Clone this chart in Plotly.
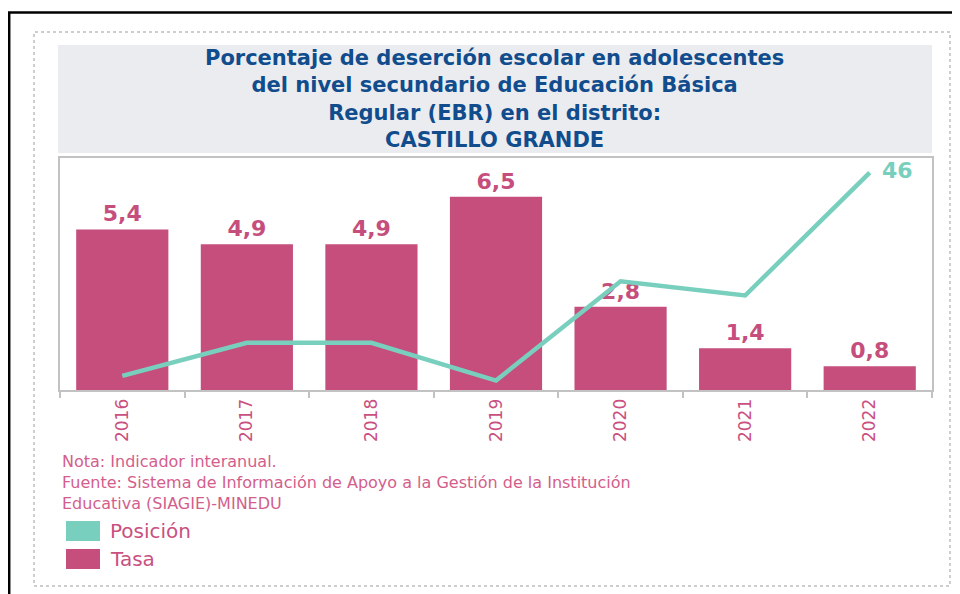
import plotly.graph_objects as go

# ---- data ----
years = ["2016", "2017", "2018", "2019", "2020", "2021", "2022"]
tasa = [5.4, 4.9, 4.9, 6.5, 2.8, 1.4, 0.8]
posicion = [3, 10, 10, 2, 23, 20, 46]

title_lines = [
    "Porcentaje de deserción escolar en adolescentes",
    "del nivel secundario de Educación Básica",
    "Regular (EBR) en el distrito:",
    "CASTILLO GRANDE",
]
note_lines = [
    "Nota: Indicador interanual.",
    "Fuente: Sistema de Información de Apoyo a la Gestión de la Institución",
    "Educativa (SIAGIE)-MINEDU",
]
legend_labels = ["Posición", "Tasa"]

# ---- style ----
# the page body has an 8px margin, so the figure starts at screen (8, 8)
OFF = 8
W, H = 960 - OFF, 594 - OFF
FONT = "DejaVu Sans"
BAR = "#C54E7D"
TEAL = "#79CFBD"
PINK_TXT = "#C9507F"
NOTE_TXT = "#D35E8C"
BLUE = "#114C8D"
GRAY = "#C2C2C2"


def px(x):
    """screen x (px) -> paper fraction"""
    return (x - OFF) / W


def py(y):
    """screen y (px, from top) -> paper fraction"""
    return 1 - (y - OFF) / H


fig = go.Figure()

fig.add_trace(go.Bar(
    x=years, y=tasa, name=legend_labels[1],
    marker=dict(color=BAR, line=dict(width=0)),
    texttemplate="<b>%{y:.1f}</b>", textposition="outside",
    textfont=dict(family=FONT, size=22, color=BAR),
    cliponaxis=False, hoverinfo="x+y",
))

pos_text = [""] * (len(posicion) - 1) + [f"<b>{posicion[-1]}</b>"]
fig.add_trace(go.Scatter(
    x=years, y=posicion, name=legend_labels[0], yaxis="y2",
    mode="lines+markers+text", line=dict(color=TEAL, width=4.5),
    marker=dict(size=18, color="rgba(0,0,0,0)"),
    text=pos_text, textposition="middle right",
    textfont=dict(family=FONT, size=22, color=TEAL),
    cliponaxis=False,
))

shapes = [
    # outer dotted card border
    dict(type="rect", xref="paper", yref="paper",
         x0=px(34), x1=px(950), y0=py(586), y1=py(32),
         line=dict(color="#BDBDBD", width=1.5, dash="dot"), layer="below"),
    # title background
    dict(type="rect", xref="paper", yref="paper",
         x0=px(58), x1=px(932), y0=py(153), y1=py(45),
         fillcolor="#EBECF0", line=dict(width=0), layer="below"),
    # black frame (page border)
    dict(type="line", xref="paper", yref="paper",
         x0=px(8), x1=px(960), y0=py(12.5), y1=py(12.5),
         line=dict(color="black", width=2.5)),
    dict(type="line", xref="paper", yref="paper",
         x0=px(9.2), x1=px(9.2), y0=py(12), y1=py(594),
         line=dict(color="black", width=2.5)),
    # legend swatches
    dict(type="rect", xref="paper", yref="paper",
         x0=px(66), x1=px(100), y0=py(541), y1=py(521),
         fillcolor=TEAL, line=dict(width=0)),
    dict(type="rect", xref="paper", yref="paper",
         x0=px(66), x1=px(100), y0=py(569), y1=py(549),
         fillcolor=BAR, line=dict(width=0)),
]

annotations = [
    dict(xref="paper", yref="paper", x=px(495), y=py(99),
         xanchor="center", yanchor="middle", align="center", showarrow=False,
         text="<b>" + "<br>".join(title_lines) + "</b>",
         font=dict(family=FONT, size=21, color=BLUE)),
    dict(xref="paper", yref="paper", x=px(60), y=py(450),
         xanchor="left", yanchor="top", align="left", showarrow=False,
         text="<br>".join(note_lines),
         font=dict(family=FONT, size=16, color=NOTE_TXT)),
    dict(xref="paper", yref="paper", x=px(108), y=py(531),
         xanchor="left", yanchor="middle", showarrow=False,
         text=legend_labels[0], font=dict(family=FONT, size=20, color=PINK_TXT)),
    dict(xref="paper", yref="paper", x=px(108), y=py(559),
         xanchor="left", yanchor="middle", showarrow=False,
         text=legend_labels[1], font=dict(family=FONT, size=20, color=PINK_TXT)),
]

fig.update_layout(
    width=W, height=H,
    margin=dict(l=0, r=0, t=0, b=0),
    paper_bgcolor="white", plot_bgcolor="white",
    showlegend=False,
    separators=",.",
    bargap=0.26,
    font=dict(family=FONT),
    xaxis=dict(
        domain=[px(60), px(932)], type="category",
        tickson="boundaries", ticks="outside", ticklen=6,
        tickcolor=GRAY, tickwidth=1.5,
        showline=True, linecolor=GRAY, linewidth=2, mirror=True,
        tickangle=-90, tickfont=dict(family=FONT, size=17, color=PINK_TXT),
        showgrid=False, zeroline=False,
    ),
    yaxis=dict(
        domain=[py(390), py(158)], range=[0, 7.8],
        showticklabels=False, showgrid=False, zeroline=False,
        showline=True, linecolor=GRAY, linewidth=2, mirror=True, ticks="",
    ),
    yaxis2=dict(
        overlaying="y", range=[0, 49.1], visible=False,
        showgrid=False, zeroline=False,
    ),
    shapes=shapes,
    annotations=annotations,
)

fig.write_html("out.html")
